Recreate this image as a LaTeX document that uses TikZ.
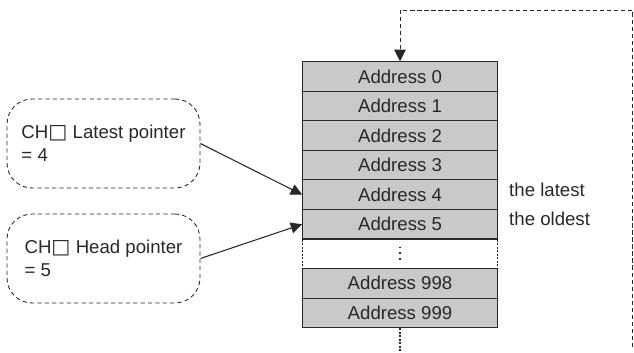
\documentclass[tikz,border=0pt]{standalone}
\usepackage{fontspec}
\setmainfont{Liberation Sans}
\newfontfamily\symfont{DejaVu Sans}
\usepackage{xcolor}
\usepackage{tikz}
\usetikzlibrary{arrows.meta,positioning}

\definecolor{cellgray}{RGB}{200,201,202}
\definecolor{inkgray}{RGB}{40,40,40}
\newcommand{\chbox}{{\symfont\fontsize{11.5pt}{13pt}\selectfont □}}

\begin{document}
\begin{tikzpicture}[
  x=0.02cm,y=-0.02cm,
  font=\fontsize{10.6pt}{13pt}\selectfont,
  text=inkgray,
  cell/.style={draw=inkgray, fill=cellgray, line width=0.6pt, minimum width=3.89cm, minimum height=0.59cm, inner sep=0pt},
  callout/.style={draw=inkgray, dashed, dash pattern=on 2.4pt off 1.8pt, rounded corners=0.5cm, line width=0.5pt, align=left, minimum width=3.86cm, minimum height=1.78cm},
  ptr/.style={-{Triangle[length=2.3mm,width=2.2mm]}, draw=inkgray, line width=0.6pt},
  loopline/.style={draw=inkgray, line width=0.5pt, dash pattern=on 2.4pt off 1.6pt},
  tailline/.style={draw=inkgray, line width=0.7pt, dash pattern=on 1.2pt off 0.8pt}
]
\useasboundingbox (0,0) rectangle (634,352);

% memory area
\foreach \i in {0,...,5}
  \node[cell] (a\i) at (400,{76.5+29.55*\i}) {Address \i};
\node[cell] (a998) at (400,283.3) {Address 998};
\node[cell] (a999) at (400,312.9) {Address 999};

% skipped rows
\draw[tailline] (a5.south west) -- (a998.north west);
\draw[tailline] (a5.south east) -- (a998.north east);
\coordinate (gaptop) at (400,246.5);
\coordinate (gapbot) at (400,261.5);
\draw[draw=inkgray, line width=0.8pt, dash pattern=on 0.8pt off 2.6pt] (gaptop) -- (gapbot);

\node[anchor=west] (latest) at (503,190) {the latest};
\node[anchor=west] (oldest) at (503,219) {the oldest};

% pointers
\node[callout] (lp) at (103.5,143.5) {CH\chbox\ Latest pointer\\= 4};
\node[callout] (hp) at (103.5,258.5) {CH\chbox\ Head pointer\\= 5};
\draw[ptr] (lp.east) -- (a4.west);
\draw[ptr] (hp.east) -- (a5.west);

% wrap around
\coordinate (loopend) at (632.7,347);
\coordinate (looptop) at (632.7,10);
\coordinate (tail) at (400,352);
\draw[loopline, -{Triangle[length=2.3mm,width=2.3mm]}] (loopend) -- (looptop) -| (a0.north);
\draw[tailline] (a999.south) -- (tail);
\end{tikzpicture}
\end{document}
